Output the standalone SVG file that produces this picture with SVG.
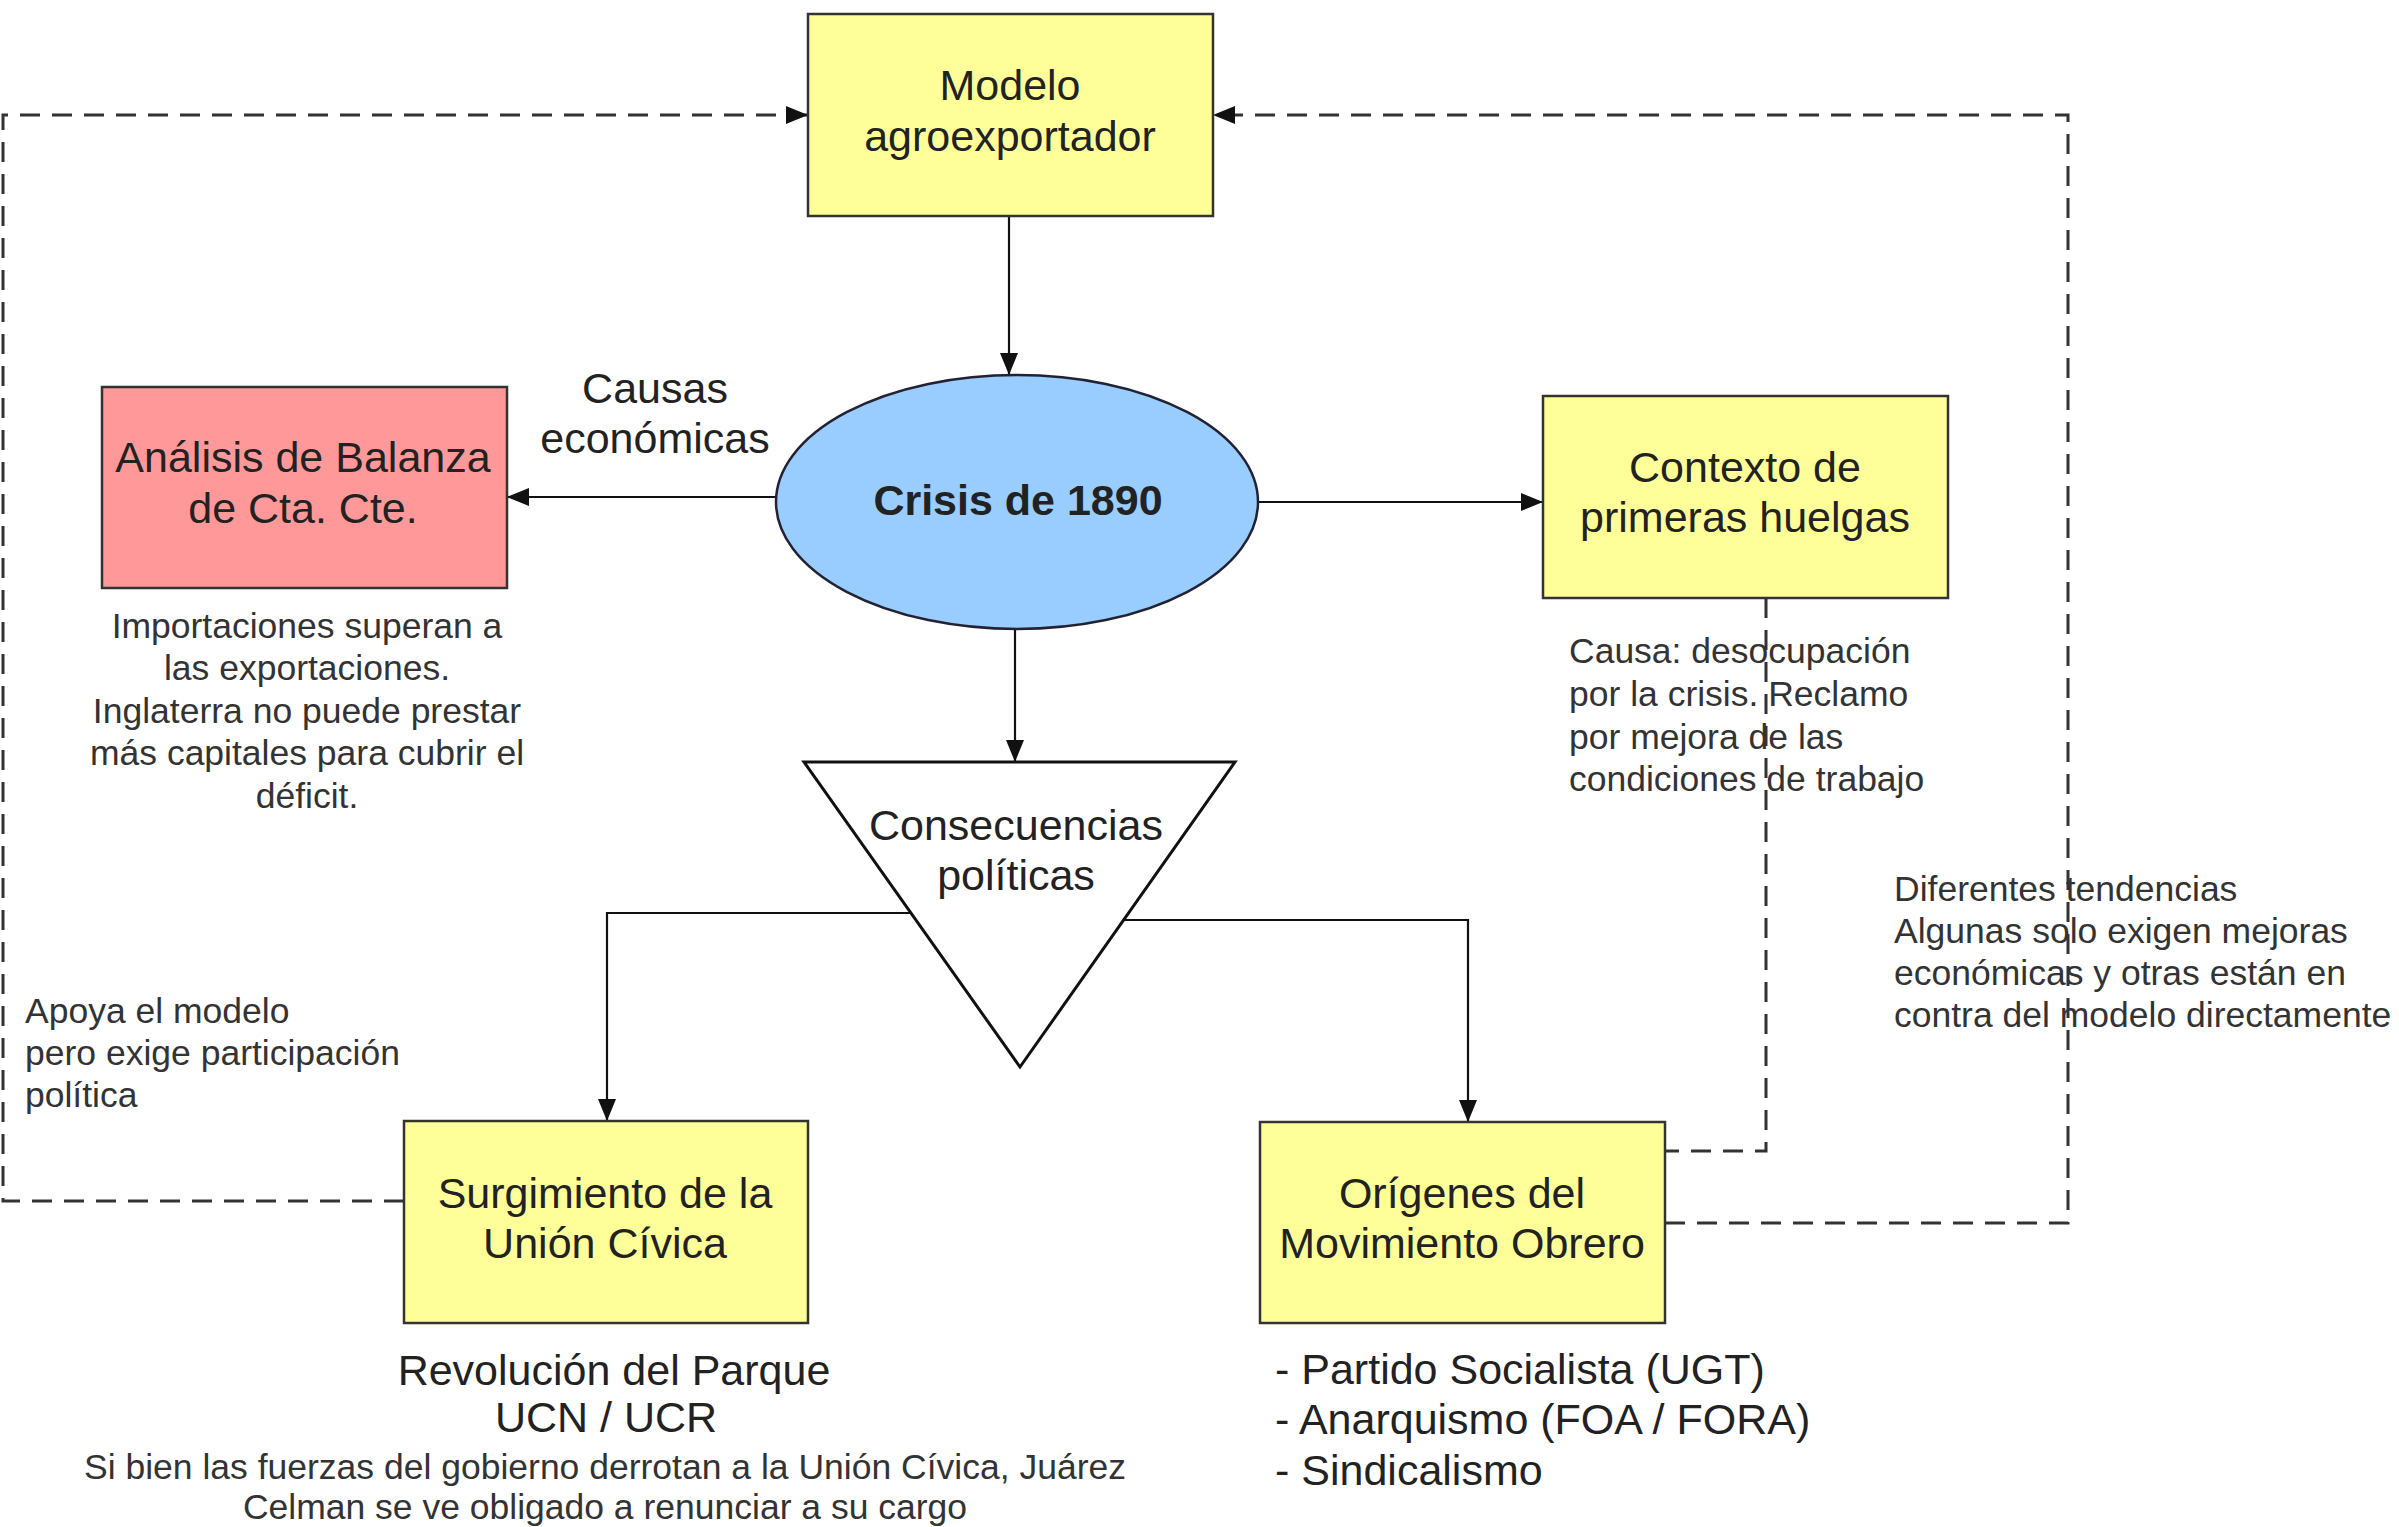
<svg xmlns="http://www.w3.org/2000/svg" width="2399" height="1527" viewBox="0 0 2399 1527">
<style>
text{font-family:"Liberation Sans",Arial,sans-serif;fill:#222}
.lbl{font-size:43px;text-anchor:middle}
.big{font-size:43px}
.sm{font-size:35.5px;fill:#333}
.mid{text-anchor:middle}
.box{stroke:#333;stroke-width:2.5}
.y{fill:#FFFF99}
.line{fill:none;stroke:#111;stroke-width:2.2}
.dash{fill:none;stroke:#333;stroke-width:3;stroke-dasharray:20 12}
</style>
<defs>
<marker id="ah" viewBox="0 0 22 18" refX="22" refY="9" markerWidth="22" markerHeight="18" markerUnits="userSpaceOnUse" orient="auto">
<path d="M0,0 L22,9 L0,18 z" fill="#111"/>
</marker>
</defs>
<rect width="2399" height="1527" fill="#fff"/>
<g id="connectors">
<path class="line" d="M1009,216 V375" marker-end="url(#ah)"/>
<path class="line" d="M777,497 H507" marker-end="url(#ah)"/>
<path class="line" d="M1258,502 H1543" marker-end="url(#ah)"/>
<path class="line" d="M1015,628 V762" marker-end="url(#ah)"/>
<path class="line" d="M911,913 H607 V1121" marker-end="url(#ah)"/>
<path class="line" d="M1124,920 H1468 V1122" marker-end="url(#ah)"/>
<path class="dash" d="M404,1201 H3 V115 H808" marker-end="url(#ah)"/>
<path class="dash" d="M1665,1223 H2068 V115 H1213" marker-end="url(#ah)"/>
<path class="dash" d="M1766,598 V1151 H1665"/>
</g>
<g id="modelo">
<rect class="box y" x="808" y="14" width="405" height="202"/>
<text class="lbl" x="1010" y="100">Modelo</text>
<text class="lbl" x="1010" y="151">agroexportador</text>
</g>
<g id="crisis">
<ellipse cx="1017" cy="502" rx="241" ry="127" fill="#99CCFF" stroke="#223" stroke-width="2.5"/>
<text class="lbl" x="1018" y="515" style="font-weight:bold">Crisis de 1890</text>
</g>
<g id="analisis">
<rect class="box" x="102" y="387" width="405" height="201" fill="#FF9999"/>
<text class="lbl" x="303" y="472">Análisis de Balanza</text>
<text class="lbl" x="303" y="523">de Cta. Cte.</text>
</g>
<g id="causas-label">
<text class="lbl" x="655" y="403">Causas</text>
<text class="lbl" x="655" y="453">económicas</text>
</g>
<g id="analisis-nota">
<text class="sm mid" x="307" y="638">Importaciones superan a</text>
<text class="sm mid" x="307" y="680">las exportaciones.</text>
<text class="sm mid" x="307" y="723">Inglaterra no puede prestar</text>
<text class="sm mid" x="307" y="765">más capitales para cubrir el</text>
<text class="sm mid" x="307" y="808">déficit.</text>
</g>
<g id="contexto">
<rect class="box y" x="1543" y="396" width="405" height="202"/>
<text class="lbl" x="1745" y="482">Contexto de</text>
<text class="lbl" x="1745" y="532">primeras huelgas</text>
</g>
<g id="contexto-nota">
<text class="sm" x="1569" y="663">Causa: desocupación</text>
<text class="sm" x="1569" y="706">por la crisis. Reclamo</text>
<text class="sm" x="1569" y="749">por mejora de las</text>
<text class="sm" x="1569" y="791">condiciones de trabajo</text>
</g>
<g id="consecuencias">
<polygon points="804,762 1235,762 1020,1067" fill="#fff" stroke="#111" stroke-width="3"/>
<text class="lbl" x="1016" y="840">Consecuencias</text>
<text class="lbl" x="1016" y="890">políticas</text>
</g>
<g id="surgimiento">
<rect class="box y" x="404" y="1121" width="404" height="202"/>
<text class="lbl" x="605" y="1208">Surgimiento de la</text>
<text class="lbl" x="605" y="1258">Unión Cívica</text>
</g>
<g id="origenes">
<rect class="box y" x="1260" y="1122" width="405" height="201"/>
<text class="lbl" x="1462" y="1208">Orígenes del</text>
<text class="lbl" x="1462" y="1258">Movimiento Obrero</text>
</g>
<g id="apoya-nota">
<text class="sm" x="25" y="1023">Apoya el modelo</text>
<text class="sm" x="25" y="1065">pero exige participación</text>
<text class="sm" x="25" y="1107">política</text>
</g>
<g id="tendencias-nota">
<text class="sm" x="1894" y="901">Diferentes tendencias</text>
<text class="sm" x="1894" y="943">Algunas solo exigen mejoras</text>
<text class="sm" x="1894" y="985">económicas y otras están en</text>
<text class="sm" x="1894" y="1027">contra del modelo directamente</text>
</g>
<g id="surgimiento-nota">
<text class="lbl" x="614" y="1385">Revolución del Parque</text>
<text class="lbl" x="606" y="1432">UCN / UCR</text>
<text class="sm mid" x="605" y="1479">Si bien las fuerzas del gobierno derrotan a la Unión Cívica, Juárez</text>
<text class="sm mid" x="605" y="1519">Celman se ve obligado a renunciar a su cargo</text>
</g>
<g id="origenes-nota">
<text class="big" x="1275" y="1384">- Partido Socialista (UGT)</text>
<text class="big" x="1275" y="1434">- Anarquismo (FOA / FORA)</text>
<text class="big" x="1275" y="1485">- Sindicalismo</text>
</g>
</svg>
